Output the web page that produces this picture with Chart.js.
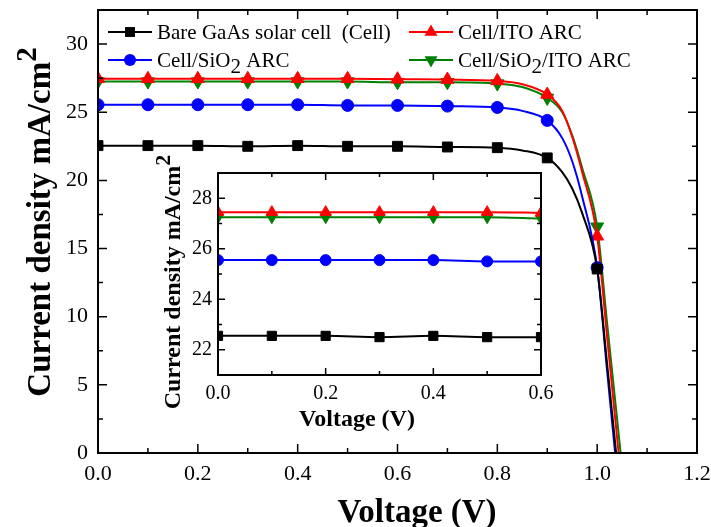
<!DOCTYPE html>
<html>
<head>
<meta charset="utf-8">
<script src="https://cdn.jsdelivr.net/npm/chart.js@4.4.1/dist/chart.umd.min.js"></script>
<style>
  html, body { margin: 0; padding: 0; background: #fff; }
  #wrap { position: relative; width: 711px; height: 527px; overflow: hidden; }
  #main { position: absolute; left: 0; top: 0; }
  #inset { position: absolute; left: 150px; top: 140px; }
</style>
</head>
<body>
<div id="wrap">
  <canvas id="main" width="711" height="527"></canvas>
  <canvas id="inset" width="420" height="310"></canvas>
</div>
<script>
// J-V data (mA/cm2 vs V)
const voltage = [0, 0.1, 0.2, 0.3, 0.4, 0.5, 0.6, 0.7, 0.8, 0.85, 0.9, 0.93, 0.95, 0.97, 1.0, 1.02];
const jBare = [22.55, 22.55, 22.55, 22.5, 22.55, 22.5, 22.5, 22.45, 22.4, 22.2, 21.65, 20.6, 19.4, 17.6, 13.5, 6.5];
const jSiO2 = [25.55, 25.55, 25.55, 25.55, 25.55, 25.5, 25.5, 25.45, 25.35, 25.1, 24.4, 23.1, 21.4, 18.8, 13.6, 6.0];
const jITO = [27.45, 27.45, 27.45, 27.45, 27.45, 27.45, 27.42, 27.4, 27.3, 27.05, 26.3, 25.1, 23.2, 20.6, 15.9, 8.5];
const jSiO2ITO = [27.25, 27.25, 27.25, 27.25, 27.25, 27.25, 27.2, 27.2, 27.1, 26.85, 26.05, 25.0, 23.3, 20.9, 16.6, 9.5];
const vocs = [1.038, 1.036, 1.043, 1.047]; // where each curve hits J = 0

const seriesLabels = ['Bare GaAs solar cell  (Cell)', 'Cell/SiO2 ARC', 'Cell/ITO ARC', 'Cell/SiO2/ITO ARC'];
const seriesColors = ['#000000', '#0000ff', '#ff0000', '#008000'];
const seriesMarkers = ['rect', 'circle', 'triangle', 'triangle'];
const seriesRotation = [0, 0, 0, 180];

const mainXTicks = [0, 0.2, 0.4, 0.6, 0.8, 1.0, 1.2];
const mainYTicks = [0, 5, 10, 15, 20, 25, 30];
const insetXTicks = [0, 0.2, 0.4, 0.6];
const insetYTicks = [22, 24, 26, 28];

const SERIF = '"Liberation Serif", "Times New Roman", serif';
const currents = [jBare, jSiO2, jITO, jSiO2ITO];

// markers only every 0.1 V up to 1.0 V
const hasMarker = v => v <= 1.0001 && Math.abs(v * 10 - Math.round(v * 10)) < 1e-6;

function seriesPoints(i) {
  return voltage.map((v, k) => ({ x: v, y: currents[i][k] })).concat({ x: vocs[i], y: 0 });
}

function makeDatasets(maxV, sizes) {
  return seriesLabels.map((label, i) => {
    const pts = seriesPoints(i).filter(p => p.x <= maxV + 1e-9);
    return {
      label: label,
      data: pts,
      borderColor: seriesColors[i],
      backgroundColor: seriesColors[i],
      borderWidth: 2,
      pointStyle: seriesMarkers[i],
      pointRotation: seriesRotation[i],
      pointRadius: pts.map(p => hasMarker(p.x) ? sizes[i] : 0),
      pointBorderWidth: 1,
      pointBorderColor: seriesColors[i],
      pointBackgroundColor: seriesColors[i],
      cubicInterpolationMode: 'monotone',
      clip: 1,
      fill: false
    };
  });
}

// text with sub/superscripts
function drawParts(ctx, parts, x, y, size, weight, align) {
  const fontOf = p => `${weight} ${Math.round(size * (p.scale || 1))}px ${SERIF}`;
  let w = 0;
  parts.forEach(p => { ctx.font = fontOf(p); p.w = ctx.measureText(p.t).width; w += p.w; });
  let cx = align === 'center' ? x - w / 2 : x;
  ctx.textAlign = 'left';
  ctx.textBaseline = 'alphabetic';
  ctx.fillStyle = '#000';
  parts.forEach(p => {
    ctx.font = fontOf(p);
    ctx.fillText(p.t, cx, y + (p.dy || 0) * size);
    cx += p.w;
  });
}

function labelParts(label) {
  const out = [];
  label.split('SiO2').forEach((seg, k, arr) => {
    if (seg) out.push({ t: seg });
    if (k < arr.length - 1) out.push({ t: 'SiO' }, { t: '2', dy: 0.3 });
  });
  return out;
}

function drawMarker(ctx, style, rot, r, x, y, color) {
  ctx.save();
  ctx.fillStyle = color;
  ctx.beginPath();
  if (style === 'rect') {
    const s = r * Math.SQRT1_2;
    ctx.rect(x - s, y - s, 2 * s, 2 * s);
  } else if (style === 'circle') {
    ctx.arc(x, y, r, 0, Math.PI * 2);
  } else {
    let a = rot * Math.PI / 180;
    for (let k = 0; k < 3; k++) {
      const px = x + Math.sin(a) * r, py = y - Math.cos(a) * r;
      if (k === 0) ctx.moveTo(px, py); else ctx.lineTo(px, py);
      a += Math.PI * 2 / 3;
    }
    ctx.closePath();
  }
  ctx.fill();
  ctx.restore();
}

// inward ticks on all four sides plus the box
const framePlugin = {
  id: 'frame',
  afterDatasetsDraw(chart, args, o) {
    const { ctx, chartArea: a, scales: { x, y } } = chart;
    ctx.save();
    ctx.strokeStyle = '#000';
    ctx.lineWidth = 1.5;
    ctx.beginPath();
    const nx = Math.round((x.max - x.min) / o.xMinor);
    for (let k = 0; k <= nx; k++) {
      const v = x.min + k * o.xMinor;
      const px = x.getPixelForValue(v);
      const len = k % o.xEvery === 0 ? o.major : o.minor;
      ctx.moveTo(px, a.bottom); ctx.lineTo(px, a.bottom - len);
      ctx.moveTo(px, a.top); ctx.lineTo(px, a.top + len);
    }
    const ny = Math.round((y.max - y.min) / o.yMinor);
    for (let k = 0; k <= ny; k++) {
      const v = y.min + k * o.yMinor;
      const py = y.getPixelForValue(v);
      const len = Math.abs(((v - o.yStart) / o.yMajor) - Math.round((v - o.yStart) / o.yMajor)) < 1e-6 ? o.major : o.minor;
      ctx.moveTo(a.left, py); ctx.lineTo(a.left + len, py);
      ctx.moveTo(a.right, py); ctx.lineTo(a.right - len, py);
    }
    ctx.stroke();
    ctx.lineWidth = 2;
    ctx.strokeRect(a.left, a.top, a.right - a.left, a.bottom - a.top);
    ctx.restore();
  }
};

// axis titles and (main chart) legend
const decoPlugin = {
  id: 'deco',
  afterDraw(chart, args, o) {
    const ctx = chart.ctx;
    ctx.save();
    drawParts(ctx, [{ t: 'Voltage (V)' }], o.xTitle[0], o.xTitle[1], o.titleSize, 'bold', 'center');
    ctx.save();
    ctx.translate(o.yTitle[0], o.yTitle[1]);
    ctx.rotate(-Math.PI / 2);
    drawParts(ctx, [{ t: 'Current density mA/cm' }, { t: '2', dy: -0.42, scale: 0.9 }], 0, 0, o.titleSize, 'bold', 'center');
    ctx.restore();
    if (o.legend) {
      const L = o.legend;
      seriesLabels.forEach((label, i) => {
        const col = L.cells[i][0], row = L.cells[i][1];
        const x0 = L.colX[col], yc = L.rowY[row];
        ctx.strokeStyle = seriesColors[i];
        ctx.lineWidth = 2;
        ctx.beginPath();
        ctx.moveTo(x0, yc); ctx.lineTo(x0 + L.lineW, yc);
        ctx.stroke();
        drawMarker(ctx, seriesMarkers[i], seriesRotation[i], L.sizes[i], x0 + L.lineW / 2, yc, seriesColors[i]);
        drawParts(ctx, labelParts(label), x0 + L.lineW + L.gap, yc + L.size * 0.33, L.size, 'normal', 'left');
      });
    }
    ctx.restore();
  }
};

function axes(xTicks, yTicks, xr, yr, yWidth, xHeight, fontSize, xPad, yPad) {
  const fixTicks = vals => scale => { scale.ticks = vals.map(v => ({ value: v })); };
  return {
    x: {
      type: 'linear', min: xr[0], max: xr[1],
      afterBuildTicks: fixTicks(xTicks),
      afterFit: s => { s.height = xHeight; s.paddingLeft = 0; s.paddingRight = 0; },
      grid: { display: false, drawTicks: false, tickLength: 0 },
      border: { display: false },
      ticks: { color: '#000', font: { family: SERIF, size: fontSize }, padding: xPad, maxRotation: 0, autoSkip: false,
               callback: v => Number(v).toFixed(1) }
    },
    y: {
      type: 'linear', min: yr[0], max: yr[1],
      afterBuildTicks: fixTicks(yTicks),
      afterFit: s => { s.width = yWidth; s.paddingTop = 0; s.paddingBottom = 0; },
      grid: { display: false, drawTicks: false, tickLength: 0 },
      border: { display: false },
      ticks: { color: '#000', font: { family: SERIF, size: fontSize }, padding: yPad, autoSkip: false,
               callback: v => String(v) }
    }
  };
}

const common = {
  responsive: false,
  animation: false,
  devicePixelRatio: 1,
  events: []
};

new Chart(document.getElementById('main'), {
  type: 'line',
  data: { datasets: makeDatasets(1.2, [7, 6, 7.5, 7.5]) },
  options: Object.assign({}, common, {
    layout: { padding: { left: 0, top: 10, right: 14, bottom: 0 } },
    scales: axes(mainXTicks, mainYTicks, [0, 1.2], [0, 32.5], 98, 74, 22, 8, 10),
    plugins: {
      legend: { display: false },
      tooltip: { enabled: false },
      frame: { xMinor: 0.1, xEvery: 2, yMinor: 2.5, yMajor: 5, yStart: 0, major: 9, minor: 5 },
      deco: {
        titleSize: 32.5,
        xTitle: [417, 522],
        yTitle: [50, 222],
        legend: {
          cells: [[0, 0], [0, 1], [1, 0], [1, 1]],
          colX: [108, 409], rowY: [32, 60], lineW: 44, gap: 5, size: 21,
          sizes: [7, 6, 7.5, 7.5]
        }
      }
    }
  }),
  plugins: [framePlugin, decoPlugin]
});

new Chart(document.getElementById('inset'), {
  type: 'line',
  data: { datasets: makeDatasets(0.6, [6.5, 5.5, 6.5, 6.5]) },
  options: Object.assign({}, common, {
    layout: { padding: { left: 0, top: 33, right: 29, bottom: 0 } },
    scales: axes(insetXTicks, insetYTicks, [0, 0.6], [21, 29], 68, 75, 20, 7, 6),
    plugins: {
      legend: { display: false },
      tooltip: { enabled: false },
      frame: { xMinor: 0.1, xEvery: 2, yMinor: 1, yMajor: 2, yStart: 22, major: 7, minor: 4 },
      deco: { titleSize: 24, xTitle: [207, 286], yTitle: [30, 142] }
    }
  }),
  plugins: [framePlugin, decoPlugin]
});
</script>
</body>
</html>
